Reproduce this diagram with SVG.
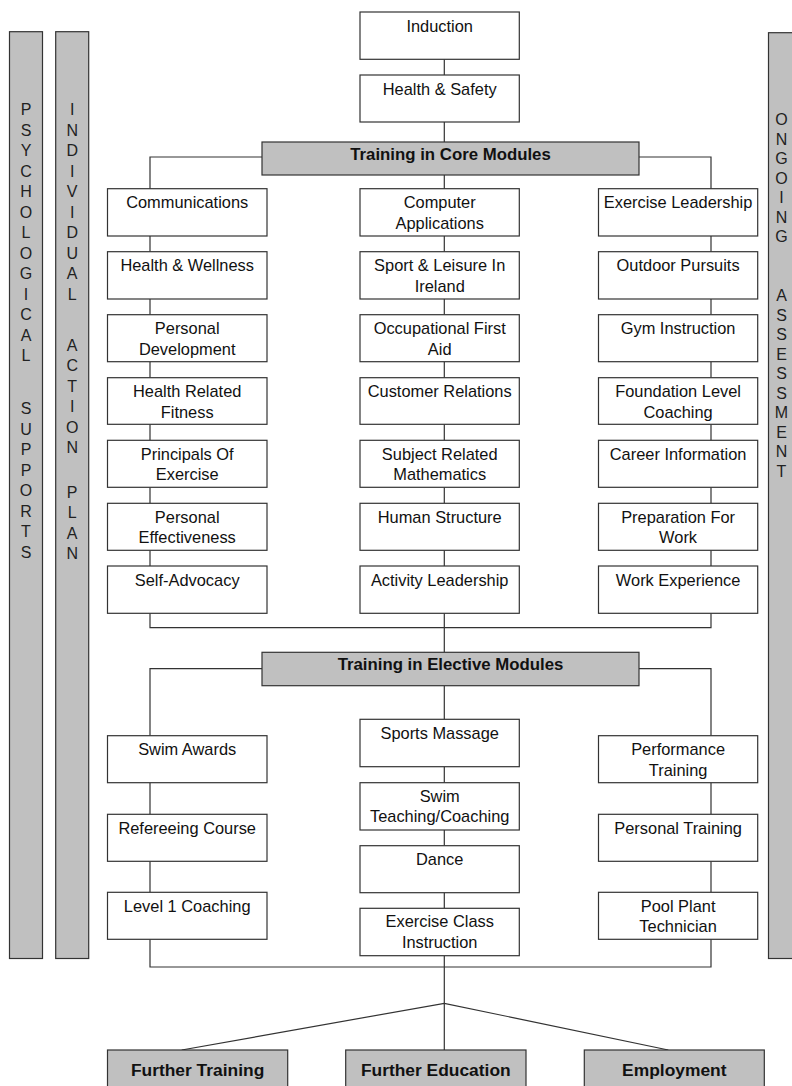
<svg xmlns="http://www.w3.org/2000/svg" width="792" height="1086" viewBox="0 0 792 1086">
<style>
.box{fill:#fff;stroke:#333;stroke-width:1.2}
.hdr{fill:#c0c0c0;stroke:#333;stroke-width:1.2}
.bar{fill:#c0c0c0;stroke:#333;stroke-width:1.2}
.t{font-family:"Liberation Sans",Arial,sans-serif;font-size:16.4px;fill:#111;text-anchor:middle}
.b{font-family:"Liberation Sans",Arial,sans-serif;font-size:16.8px;font-weight:bold;fill:#111;text-anchor:middle}
.v{font-family:"Liberation Sans",Arial,sans-serif;font-size:16px;fill:#222;text-anchor:middle}
#connectors path,#connectors line{stroke:#333;stroke-width:1.2;fill:none}
</style>

<g id="connectors">
<path d="M444.3 59.3V75M444.3 122V142M444.3 175V189"/>
<path d="M262 157H150V189M639 157H711V189"/>
<path d="M150 236V251.7M150 299V314.7M150 361.7V377.7M150 424.3V440.3M150 487.3V503.3M150 550.3V566"/>
<path d="M444.3 236V251.7M444.3 299V314.7M444.3 361.7V377.7M444.3 424.3V440.3M444.3 487.3V503.3M444.3 550.3V566"/>
<path d="M711 236V251.7M711 299V314.7M711 361.7V377.7M711 424.3V440.3M711 487.3V503.3M711 550.3V566"/>
<path d="M150 613.3V627.7H711V613.3M444.3 613.3V652"/>
<path d="M262 668.7H150V735.7M639 668.7H711V735.7M444.3 685.7V719.3"/>
<path d="M150 782.7V814.3M150 861.3V892.3M150 939.3V967H711V939.3M711 861.3V892.3M711 782.7V814.3"/>
<path d="M444.3 766.7V782.7M444.3 830V845.7M444.3 892.7V908.3M444.3 955.7V1050"/>
<path d="M181.7 1050L444.3 1003.3L668.3 1050"/>
</g>

<g id="bar-psych">
<rect class="bar" x="9.5" y="31.7" width="33" height="926.8"/>
<text class="v" x="26"><tspan x="26" y="115">P</tspan><tspan x="26" y="135.5">S</tspan><tspan x="26" y="156">Y</tspan><tspan x="26" y="176.5">C</tspan><tspan x="26" y="197">H</tspan><tspan x="26" y="217.5">O</tspan><tspan x="26" y="238">L</tspan><tspan x="26" y="258.5">O</tspan><tspan x="26" y="279">G</tspan><tspan x="26" y="299.5">I</tspan><tspan x="26" y="320">C</tspan><tspan x="26" y="340.5">A</tspan><tspan x="26" y="361">L</tspan><tspan x="26" y="414">S</tspan><tspan x="26" y="434.5">U</tspan><tspan x="26" y="455">P</tspan><tspan x="26" y="475.5">P</tspan><tspan x="26" y="496">O</tspan><tspan x="26" y="516.5">R</tspan><tspan x="26" y="537">T</tspan><tspan x="26" y="557.5">S</tspan></text>
</g>

<g id="bar-iap">
<rect class="bar" x="55.7" y="31.7" width="33" height="926.8"/>
<text class="v" x="72.2"><tspan x="72.2" y="115">I</tspan><tspan x="72.2" y="135.5">N</tspan><tspan x="72.2" y="156">D</tspan><tspan x="72.2" y="176.5">I</tspan><tspan x="72.2" y="197">V</tspan><tspan x="72.2" y="217.5">I</tspan><tspan x="72.2" y="238">D</tspan><tspan x="72.2" y="258.5">U</tspan><tspan x="72.2" y="279">A</tspan><tspan x="72.2" y="299.5">L</tspan><tspan x="72.2" y="351">A</tspan><tspan x="72.2" y="371.4">C</tspan><tspan x="72.2" y="391.8">T</tspan><tspan x="72.2" y="412.2">I</tspan><tspan x="72.2" y="432.6">O</tspan><tspan x="72.2" y="453">N</tspan><tspan x="72.2" y="498">P</tspan><tspan x="72.2" y="518.3">L</tspan><tspan x="72.2" y="538.6">A</tspan><tspan x="72.2" y="559">N</tspan></text>
</g>

<g id="bar-assess">
<rect class="bar" x="768.5" y="32.7" width="34" height="925.8"/>
<text class="v" x="781.5"><tspan x="781.5" y="125">O</tspan><tspan x="781.5" y="144.5">N</tspan><tspan x="781.5" y="164">G</tspan><tspan x="781.5" y="183.5">O</tspan><tspan x="781.5" y="203">I</tspan><tspan x="781.5" y="222.5">N</tspan><tspan x="781.5" y="242">G</tspan><tspan x="781.5" y="301">A</tspan><tspan x="781.5" y="320.5">S</tspan><tspan x="781.5" y="340">S</tspan><tspan x="781.5" y="359.5">E</tspan><tspan x="781.5" y="379">S</tspan><tspan x="781.5" y="398.5">S</tspan><tspan x="781.5" y="418">M</tspan><tspan x="781.5" y="437.5">E</tspan><tspan x="781.5" y="457">N</tspan><tspan x="781.5" y="476.5">T</tspan></text>
</g>

<g id="induction"><rect class="box" x="360" y="12" width="159.3" height="47.3"/><text class="t" x="439.7" y="31.5">Induction</text></g>
<g id="health-safety"><rect class="box" x="360" y="75" width="159.3" height="47"/><text class="t" x="439.7" y="94.5">Health &amp; Safety</text></g>
<g id="core"><rect class="hdr" x="262" y="142" width="377" height="33"/><text class="b" x="450.5" y="159.5">Training in Core Modules</text></g>

<g id="communications"><rect class="box" x="107.5" y="188.7" width="159.5" height="47.3"/><text class="t" x="187.2" y="208.3">Communications</text></g>
<g id="health-wellness"><rect class="box" x="107.5" y="251.7" width="159.5" height="47.3"/><text class="t" x="187.2" y="271.2">Health &amp; Wellness</text></g>
<g id="personal-development"><rect class="box" x="107.5" y="314.7" width="159.5" height="47"/><text class="t" x="187.2" y="334.2">Personal<tspan x="187.2" dy="20.5">Development</tspan></text></g>
<g id="health-related-fitness"><rect class="box" x="107.5" y="377.7" width="159.5" height="46.6"/><text class="t" x="187.2" y="397.2">Health Related<tspan x="187.2" dy="20.5">Fitness</tspan></text></g>
<g id="principals"><rect class="box" x="107.5" y="440.3" width="159.5" height="47"/><text class="t" x="187.2" y="459.8">Principals Of<tspan x="187.2" dy="20.5">Exercise</tspan></text></g>
<g id="personal-effectiveness"><rect class="box" x="107.5" y="503.3" width="159.5" height="47"/><text class="t" x="187.2" y="522.8">Personal<tspan x="187.2" dy="20.5">Effectiveness</tspan></text></g>
<g id="self-advocacy"><rect class="box" x="107.5" y="566" width="159.5" height="47.3"/><text class="t" x="187.2" y="585.5">Self-Advocacy</text></g>

<g id="computer-applications"><rect class="box" x="360" y="188.7" width="159.3" height="47.3"/><text class="t" x="439.7" y="208.3">Computer<tspan x="439.7" dy="20.5">Applications</tspan></text></g>
<g id="sport-leisure"><rect class="box" x="360" y="251.7" width="159.3" height="47.3"/><text class="t" x="439.7" y="271.2">Sport &amp; Leisure In<tspan x="439.7" dy="20.5">Ireland</tspan></text></g>
<g id="first-aid"><rect class="box" x="360" y="314.7" width="159.3" height="47"/><text class="t" x="439.7" y="334.2">Occupational First<tspan x="439.7" dy="20.5">Aid</tspan></text></g>
<g id="customer-relations"><rect class="box" x="360" y="377.7" width="159.3" height="46.6"/><text class="t" x="439.7" y="397.2">Customer Relations</text></g>
<g id="mathematics"><rect class="box" x="360" y="440.3" width="159.3" height="47"/><text class="t" x="439.7" y="459.8">Subject Related<tspan x="439.7" dy="20.5">Mathematics</tspan></text></g>
<g id="human-structure"><rect class="box" x="360" y="503.3" width="159.3" height="47"/><text class="t" x="439.7" y="522.8">Human Structure</text></g>
<g id="activity-leadership"><rect class="box" x="360" y="566" width="159.3" height="47.3"/><text class="t" x="439.7" y="585.5">Activity Leadership</text></g>

<g id="exercise-leadership"><rect class="box" x="598.5" y="188.7" width="159.2" height="47.3"/><text class="t" x="678.1" y="208.3">Exercise Leadership</text></g>
<g id="outdoor-pursuits"><rect class="box" x="598.5" y="251.7" width="159.2" height="47.3"/><text class="t" x="678.1" y="271.2">Outdoor Pursuits</text></g>
<g id="gym-instruction"><rect class="box" x="598.5" y="314.7" width="159.2" height="47"/><text class="t" x="678.1" y="334.2">Gym Instruction</text></g>
<g id="foundation-coaching"><rect class="box" x="598.5" y="377.7" width="159.2" height="46.6"/><text class="t" x="678.1" y="397.2">Foundation Level<tspan x="678.1" dy="20.5">Coaching</tspan></text></g>
<g id="career-information"><rect class="box" x="598.5" y="440.3" width="159.2" height="47"/><text class="t" x="678.1" y="459.8">Career Information</text></g>
<g id="preparation-work"><rect class="box" x="598.5" y="503.3" width="159.2" height="47"/><text class="t" x="678.1" y="522.8">Preparation For<tspan x="678.1" dy="20.5">Work</tspan></text></g>
<g id="work-experience"><rect class="box" x="598.5" y="566" width="159.2" height="47.3"/><text class="t" x="678.1" y="585.5">Work Experience</text></g>

<g id="elective"><rect class="hdr" x="262" y="652.3" width="377" height="33.4"/><text class="b" x="450.5" y="670">Training in Elective Modules</text></g>

<g id="swim-awards"><rect class="box" x="107.5" y="735.7" width="159.5" height="47"/><text class="t" x="187.2" y="755.2">Swim Awards</text></g>
<g id="refereeing"><rect class="box" x="107.5" y="814.3" width="159.5" height="47"/><text class="t" x="187.2" y="833.8">Refereeing Course</text></g>
<g id="level1-coaching"><rect class="box" x="107.5" y="892.3" width="159.5" height="47"/><text class="t" x="187.2" y="911.8">Level 1 Coaching</text></g>

<g id="sports-massage"><rect class="box" x="360" y="719.3" width="159.3" height="47.4"/><text class="t" x="439.7" y="738.8">Sports Massage</text></g>
<g id="swim-teaching"><rect class="box" x="360" y="782.7" width="159.3" height="47.3"/><text class="t" x="439.7" y="801.5">Swim<tspan x="439.7" dy="20.5">Teaching/Coaching</tspan></text></g>
<g id="dance"><rect class="box" x="360" y="845.7" width="159.3" height="47"/><text class="t" x="439.7" y="865">Dance</text></g>
<g id="exercise-class"><rect class="box" x="360" y="908.3" width="159.3" height="47.4"/><text class="t" x="439.7" y="927">Exercise Class<tspan x="439.7" dy="20.5">Instruction</tspan></text></g>

<g id="performance-training"><rect class="box" x="598.5" y="735.7" width="159.2" height="47"/><text class="t" x="678.1" y="755.2">Performance<tspan x="678.1" dy="20.5">Training</tspan></text></g>
<g id="personal-training"><rect class="box" x="598.5" y="814.3" width="159.2" height="47"/><text class="t" x="678.1" y="833.8">Personal Training</text></g>
<g id="pool-plant"><rect class="box" x="598.5" y="892.3" width="159.2" height="47"/><text class="t" x="678.1" y="911.8">Pool Plant<tspan x="678.1" dy="20.5">Technician</tspan></text></g>

<g id="further-training"><rect class="hdr" x="107.5" y="1050" width="180.2" height="50"/><text class="b" x="197.6" y="1075.7" style="font-size:17.4px">Further Training</text></g>
<g id="further-education"><rect class="hdr" x="345.7" y="1050" width="180.3" height="50"/><text class="b" x="435.8" y="1075.7" style="font-size:17.4px">Further Education</text></g>
<g id="employment"><rect class="hdr" x="584.3" y="1050" width="180" height="50"/><text class="b" x="674.3" y="1075.7" style="font-size:17.4px">Employment</text></g>
</svg>
